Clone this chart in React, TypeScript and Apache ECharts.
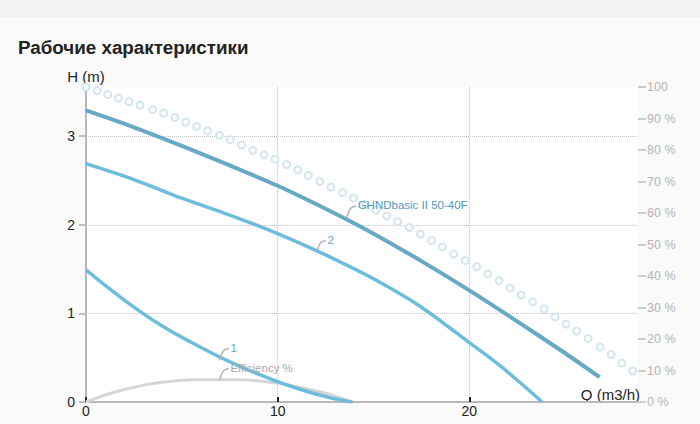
import React, { useEffect, useRef } from "react";
import * as echarts from "echarts";

// ---- data ----
const xTickValues = [0, 10, 20];
const hTickValues = [0, 1, 2, 3];

// dotted (hollow-circle) curve
const dotQ = [0, 0.59, 1.13, 1.69, 2.24, 2.82, 3.48, 4.05, 4.64, 5.2, 5.77, 6.34, 6.96, 7.53, 8.12, 8.7, 9.29, 9.86, 10.47, 11.04, 11.6, 12.2, 12.78, 13.39, 13.95, 14.55, 15.13, 15.69, 16.26, 16.87, 17.45, 18.03, 18.6, 19.18, 19.78, 20.39, 20.96, 21.55, 22.12, 22.7, 23.3, 23.9, 24.48, 25.05, 25.6, 26.2, 26.82, 27.4, 27.95, 28.52];
const dotH = [3.555, 3.515, 3.47, 3.43, 3.39, 3.35, 3.3, 3.26, 3.21, 3.16, 3.11, 3.06, 3.01, 2.96, 2.9, 2.84, 2.79, 2.74, 2.68, 2.62, 2.556, 2.49, 2.425, 2.364, 2.3, 2.23, 2.165, 2.1, 2.036, 1.97, 1.894, 1.82, 1.75, 1.67, 1.595, 1.527, 1.445, 1.37, 1.286, 1.207, 1.13, 1.05, 0.96, 0.88, 0.8, 0.717, 0.62, 0.536, 0.438, 0.35];

// GHNDbasic II 50-40F (max speed)
const mainQ = [0, 2.5, 5, 7.5, 10, 12.5, 15, 17.5, 20, 22.5, 25, 26.8];
const mainH = [3.29, 3.1, 2.89, 2.67, 2.44, 2.18, 1.9, 1.59, 1.26, 0.91, 0.55, 0.28];

// curve 2
const c2Q = [0, 2.5, 5, 7.5, 10, 12.5, 15, 17.5, 20, 21.6, 23.8];
const c2H = [2.69, 2.51, 2.3, 2.11, 1.9, 1.66, 1.39, 1.07, 0.67, 0.41, 0];

// curve 1
const c1Q = [0, 1, 2, 3, 4, 5, 6, 7, 8, 9, 10, 11, 12, 13, 13.9];
const c1H = [1.49, 1.315, 1.15, 0.995, 0.855, 0.73, 0.615, 0.505, 0.405, 0.315, 0.23, 0.155, 0.09, 0.035, 0];

// efficiency (%)
const effQ = [0, 1.25, 3, 4.2, 5.6, 8.0, 9.4, 10.8, 12.56, 13.86];
const effP = [0, 2.7, 5.35, 6.4, 7.1, 7.1, 6.4, 5.1, 2.7, 0];

// curve labels (anchor point on the curve, in Q / H)
const labelTexts = ["GHNDbasic II 50-40F", "2", "1", "Efficiency %"];
const labelQ = [13.6, 12.03, 6.96, 6.96];
const labelH = [2.08, 1.69, 0.47, 0.245];

const FONT = '"Liberation Sans", Arial, sans-serif';
const labelColors = ["#4f97c4", "#5aa8d4", "#5aa8d4", "#a8a8a8"];

const zip = (a: number[], b: number[]) => a.map((v, i) => [v, b[i]]);

export default function App() {
  const ref = useRef<HTMLDivElement>(null);
  useEffect(() => {
    document.body.style.margin = "0";
    const chart = echarts.init(ref.current!, null, { renderer: "svg" });
    const option: any = {
      animation: false,
      backgroundColor: "#fafafa",
      textStyle: { fontFamily: FONT },
      title: {
        text: "Рабочие характеристики",
        left: 18,
        top: 38,
        padding: 0,
        textStyle: { fontSize: 18.8, fontWeight: "bold", color: "#222", fontFamily: FONT },
      },
      graphic: [
        { type: "rect", z: -10, shape: { x: 0, y: 0, width: 700, height: 17 }, style: { fill: "#f2f2f2" } },
      ],
      grid: {
        left: 86,
        right: 62,
        top: 87,
        bottom: 22,
        show: true,
        backgroundColor: "#ffffff",
        borderWidth: 0,
        containLabel: false,
      },
      xAxis: {
        type: "value",
        min: 0,
        max: 28.8,
        interval: 10,
        name: "Q (m3/h)",
        nameLocation: "end",
        nameGap: 0,
        nameTextStyle: { color: "#222", fontSize: 15, align: "right", verticalAlign: "bottom", padding: [0, -2, 0, 0] },
        axisLine: { show: true, lineStyle: { color: "#b8b8b8", width: 2 } },
        axisTick: { show: true, inside: true, length: 5, lineStyle: { color: "#222", width: 2 }, customValues: xTickValues },
        axisLabel: { color: "#222", fontSize: 14, margin: 2, showMaxLabel: false },
        splitLine: { show: true, showMinLine: false, lineStyle: { type: "dotted", color: "#c4c4c4", width: 1 } },
      },
      yAxis: [
        {
          type: "value",
          position: "left",
          min: 0,
          max: 3.555,
          interval: 1,
          name: "H (m)",
          nameLocation: "end",
          nameGap: 3,
          nameTextStyle: { color: "#222", fontSize: 15, align: "center", verticalAlign: "bottom" },
          axisLine: { show: true, lineStyle: { color: "#b8b8b8", width: 2 } },
          axisTick: { show: true, length: 7, lineStyle: { color: "#bdbdbd", width: 2 }, customValues: hTickValues },
          axisLabel: { color: "#222", fontSize: 14, margin: 11, padding: [0, 0, 10, 0], showMaxLabel: false },
          splitLine: { show: true, showMinLine: false, lineStyle: { type: "dotted", color: "#c4c4c4", width: 1 } },
        },
        {
          type: "value",
          position: "right",
          min: 0,
          max: 100,
          interval: 10,
          axisLine: { show: false },
          axisTick: { show: true, length: 8, lineStyle: { color: "#cccccc", width: 2 } },
          axisLabel: {
            color: "#b5b5b5",
            fontSize: 12.5,
            margin: 9,
            padding: [0, 0, 8, 0],
            formatter: "{value} %",
            width: 31,
            overflow: "truncate",
            ellipsis: "",
          },
          splitLine: { show: false },
        },
      ],
      series: [
        {
          name: "max",
          type: "line",
          data: zip(dotQ, dotH),
          symbol: "emptyCircle",
          symbolSize: 7,
          showSymbol: true,
          showAllSymbol: true,
          itemStyle: { color: "#d3e6ef", borderColor: "#d3e6ef", borderWidth: 1.8 },
          lineStyle: { opacity: 0, width: 0 },
          silent: true,
          z: 2,
        },
        {
          name: "Efficiency %",
          type: "line",
          yAxisIndex: 1,
          data: zip(effQ, effP),
          smooth: 0.3,
          showSymbol: false,
          lineStyle: { color: "#d6d6d6", width: 3 },
          z: 3,
        },
        {
          name: "1",
          type: "line",
          data: zip(c1Q, c1H),
          smooth: 0.3,
          showSymbol: false,
          lineStyle: { color: "#6cbcde", width: 3.5 },
          z: 4,
        },
        {
          name: "2",
          type: "line",
          data: zip(c2Q, c2H),
          smooth: 0.3,
          showSymbol: false,
          lineStyle: { color: "#6cbcde", width: 3.5 },
          z: 4,
        },
        {
          name: "GHNDbasic II 50-40F",
          type: "line",
          data: zip(mainQ, mainH),
          smooth: 0.3,
          showSymbol: false,
          lineStyle: { color: "#67a8c6", width: 4 },
          z: 5,
        },
        {
          name: "labels",
          type: "custom",
          data: labelQ.map((q, i) => [q, labelH[i]]),
          encode: { x: 0, y: 1 },
          silent: true,
          z: 10,
          clip: false,
          renderItem: (params: any, api: any) => {
            const p = api.coord([api.value(0), api.value(1)]);
            const i = params.dataIndex;
            const x = p[0];
            const y = p[1];
            return {
              type: "group",
              children: [
                {
                  type: "bezierCurve",
                  shape: { x1: x, y1: y, cpx1: x + 3, cpy1: y - 9, cpx2: x + 4, cpy2: y - 11.5, x2: x + 9.5, y2: y - 11.5 },
                  style: { stroke: "#b3b3b3", lineWidth: 1.5, fill: null },
                },
                {
                  type: "text",
                  style: {
                    text: labelTexts[i],
                    x: x + 11,
                    y: y - 12.5,
                    fill: labelColors[i],
                    font: `11.5px ${FONT}`,
                    align: "left",
                    verticalAlign: "middle",
                  },
                },
              ],
            };
          },
        },
      ],
    };
    chart.setOption(option);
    return () => chart.dispose();
  }, []);
  return <div ref={ref} style={{ width: 700, height: 424 }} />;
}
